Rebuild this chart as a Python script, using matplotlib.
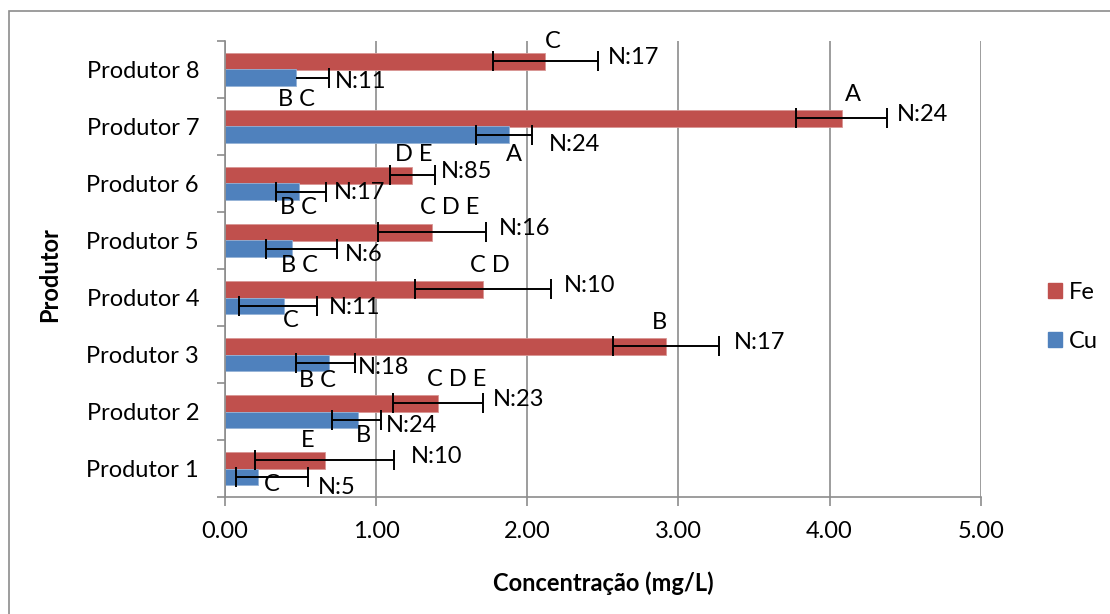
import numpy as np
import matplotlib
matplotlib.use("Agg")
import matplotlib.pyplot as plt
from matplotlib.patches import Rectangle, Patch

plt.rcParams['font.family'] = 'Lato'
plt.rcParams['font.size'] = 17

produtores = ['Produtor 1', 'Produtor 2', 'Produtor 3', 'Produtor 4',
              'Produtor 5', 'Produtor 6', 'Produtor 7', 'Produtor 8']
fe = [0.66, 1.41, 2.92, 1.71, 1.37, 1.24, 4.08, 2.12]
fe_err = [0.46, 0.30, 0.35, 0.45, 0.36, 0.15, 0.30, 0.35]
cu = [0.22, 0.88, 0.69, 0.39, 0.44, 0.49, 1.88, 0.47]
cu_err_lo = [0.15, 0.17, 0.22, 0.30, 0.17, 0.15, 0.22, 0.0]
cu_err_hi = [0.33, 0.15, 0.17, 0.22, 0.30, 0.18, 0.15, 0.22]
fe_letras = ['E', 'C D E', 'B', 'C D', 'C D E', 'D E', 'A', 'C']
cu_letras = ['C', 'B', 'B C', 'C', 'B C', 'B C', 'A', 'B C']
fe_n = ['N:10', 'N:23', 'N:17', 'N:10', 'N:16', 'N:85', 'N:24', 'N:17']
cu_n = ['N:5', 'N:24', 'N:18', 'N:11', 'N:6', 'N:17', 'N:24', 'N:11']

# nudges of the labels, in pixels (layout only)
fe_let_dx = [-17, 19, -7, 6, 18, 1, 11, 7]
fe_let_dy = [18, 22, 22, 22, 23, 19, 22, 18]      # up
cu_let_dx = [14, 5, -12, 7, 8, -1, 5, 0]
cu_let_dy = [10, 18, 20, 17, 19, 18, 22, 24]      # down
fe_n_dx = [17, 9, 15, 12, 12, 6, 10, 10]
cu_n_dx = [10, 5, 3, 12, 8, 8, 17, 6]
cu_n_dy = [13, 8, 7, 4, 8, 3, 12, 6]              # down

red = '#C0504D'
blue = '#4F81BD'
grid_c = '#8C8C8C'

fig = plt.figure(figsize=(11.1, 6.14), dpi=100)
ax = fig.add_axes([225 / 1110, 1 - 497 / 614, 755.7 / 1110, 456 / 614])

y = np.arange(len(produtores))
h = 0.29
ax.barh(y + h / 2, fe, height=h, color=red, edgecolor='#D99694', linewidth=0.6, zorder=2)
ax.barh(y - h / 2, cu, height=h, color=blue, edgecolor='#95B3D7', linewidth=0.6, zorder=2)

ax.errorbar(fe, y + h / 2, xerr=fe_err, fmt='none', ecolor='black',
            elinewidth=1.4, capsize=7, capthick=1.4, zorder=3)
eb = ax.errorbar(cu, y - h / 2, xerr=[cu_err_lo, cu_err_hi], fmt='none',
                 ecolor='black', elinewidth=1.4, capsize=7, capthick=1.4, zorder=3)
# no cap where there is no lower error
for cl in eb[1]:
    xd = np.array(cl.get_xdata(), dtype=float)
    for i in range(len(cu)):
        if cu_err_lo[i] == 0 and abs(xd[i] - cu[i]) < 1e-9:
            xd[i] = np.nan
    cl.set_xdata(xd)

vs = 2
for i in range(len(produtores)):
    ax.annotate(fe_letras[i], xy=(fe[i], y[i] + h / 2), xytext=(fe_let_dx[i], fe_let_dy[i] + vs),
                textcoords='offset pixels', ha='center', va='center', zorder=4)
    ax.annotate(cu_letras[i], xy=(cu[i], y[i] - h / 2), xytext=(cu_let_dx[i], -cu_let_dy[i] + vs),
                textcoords='offset pixels', ha='center', va='center', zorder=4)
    ax.annotate(fe_n[i], xy=(fe[i] + fe_err[i], y[i] + h / 2), xytext=(fe_n_dx[i], 2 + vs),
                textcoords='offset pixels', ha='left', va='center', zorder=4)
    ax.annotate(cu_n[i], xy=(cu[i] + cu_err_hi[i], y[i] - h / 2), xytext=(cu_n_dx[i], -cu_n_dy[i] + vs),
                textcoords='offset pixels', ha='left', va='center', zorder=4)

ax.set_xlim(0, 5)
ax.set_ylim(-0.5, len(produtores) - 0.5)
ax.set_xticks(np.arange(0, 6, 1))
ax.set_xticklabels(['%.2f' % v for v in np.arange(0, 6, 1)])
ax.set_yticks(y)
ax.set_yticklabels(produtores)
ax.set_yticks(np.arange(-0.5, len(produtores), 1), minor=True)
ax.tick_params(axis='y', which='major', length=0, pad=18.7)
ax.tick_params(axis='y', which='minor', length=6, width=1.2, color=grid_c, direction='out')
ax.tick_params(axis='x', length=6.5, width=1.2, color=grid_c, pad=11)
ax.grid(axis='x', color=grid_c, linewidth=1.2, zorder=0)
ax.set_axisbelow(True)
for s in ['top', 'right']:
    ax.spines[s].set_visible(False)
for s in ['left', 'bottom']:
    ax.spines[s].set_color(grid_c)
    ax.spines[s].set_linewidth(1.2)

ax.set_xlabel('Concentração (mg/L)', fontweight='bold', va='center')
ax.xaxis.set_label_coords(0.5, (497 - 583) / 456)
ax.set_ylabel('Produtor', fontweight='bold', va='center')
ax.yaxis.set_label_coords((50 - 225) / 755.7, (497 - 274.5) / 456)

handles = [Patch(facecolor=red, edgecolor=red), Patch(facecolor=blue, edgecolor=blue)]
ax.legend(handles, ['Fe', 'Cu'], loc='center left', bbox_to_anchor=(1047.7 / 1110, 1 - 317 / 614),
          bbox_transform=fig.transFigure, frameon=False, borderpad=0, borderaxespad=0,
          handlelength=0.6, handleheight=0.6, handletextpad=0.3, labelspacing=1.2)

# chart area border
fig.add_artist(Rectangle((8.5 / 1110, -0.2), 1.2, 1.2 - 11 / 614, transform=fig.transFigure,
                         fill=False, edgecolor=grid_c, linewidth=1.2))

fig.savefig('out.png', dpi=100)
